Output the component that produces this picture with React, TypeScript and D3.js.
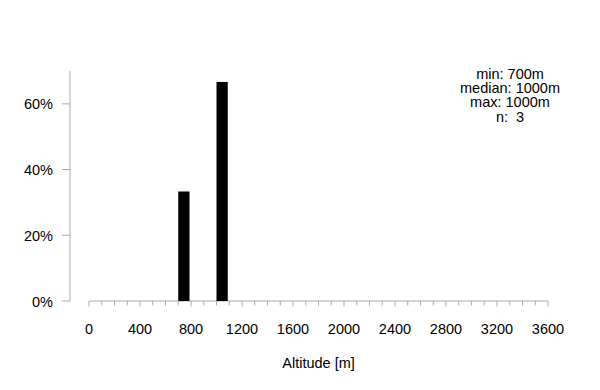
import React from "react";
import * as d3 from "d3";

const binStarts = [700, 1000];
const binShares = [1 / 3, 2 / 3];
const yTicks = [0, 0.2, 0.4, 0.6];
const xLabelTicks = [0, 400, 800, 1200, 1600, 2000, 2400, 2800, 3200, 3600];
const statsLines = ["min: 700m", "median: 1000m", "max: 1000m", "n:  3"];
const xTitle = "Altitude [m]";
const binWidth = 100;

export default function App() {
  const W = 600, H = 390;
  const x = d3.scaleLinear().domain([0, 3600]).range([89, 548]);
  const y = d3.scaleLinear().domain([0, 0.7]).range([301, 71]);
  const minor = d3.range(0, 3601, 100);
  const font = "Arial, 'Liberation Sans', sans-serif";
  const axisCol = "#aaa";
  const pct = d3.format(".0%");
  return (
    <svg width={W} height={H} style={{ position: "absolute", left: 0, top: 0, background: "#fff" }} fontFamily={font}>
      {/* y axis */}
      <line x1={70} x2={70} y1={y(0.7)} y2={y(0)} stroke={axisCol} />
      {yTicks.map((t) => (
        <g key={t}>
          <line x1={62} x2={70} y1={y(t)} y2={y(t)} stroke={axisCol} />
          <text x={53} y={y(t) + 5.5} textAnchor="end" fontSize={14.5} fill="#000">{pct(t)}</text>
        </g>
      ))}
      {/* x axis */}
      <line x1={x(0)} x2={x(3600)} y1={301} y2={301} stroke={axisCol} />
      {minor.map((t) => (
        <line key={t} x1={x(t)} x2={x(t)} y1={301} y2={t % 400 === 0 ? 306.5 : 305.5} stroke={axisCol} />
      ))}
      {xLabelTicks.map((t) => (
        <text key={t} x={x(t)} y={333.5} textAnchor="middle" fontSize={14.5} fill="#000">{t}</text>
      ))}
      <text x={(x(0) + x(3600)) / 2} y={368} textAnchor="middle" fontSize={14.5} fill="#000">{xTitle}</text>
      {/* bars */}
      {binStarts.map((b, i) => (
        <rect key={b} x={x(b)} y={y(binShares[i])} width={x(b + binWidth) - x(b) - 1.5} height={y(0) - y(binShares[i])} fill="#000" />
      ))}
      {/* stats */}
      {statsLines.map((s, i) => (
        <text key={i} x={510} y={79 + i * 14.2} textAnchor="middle" fontSize={14.5} fill="#000" style={{ whiteSpace: "pre" }}>{s}</text>
      ))}
    </svg>
  );
}
